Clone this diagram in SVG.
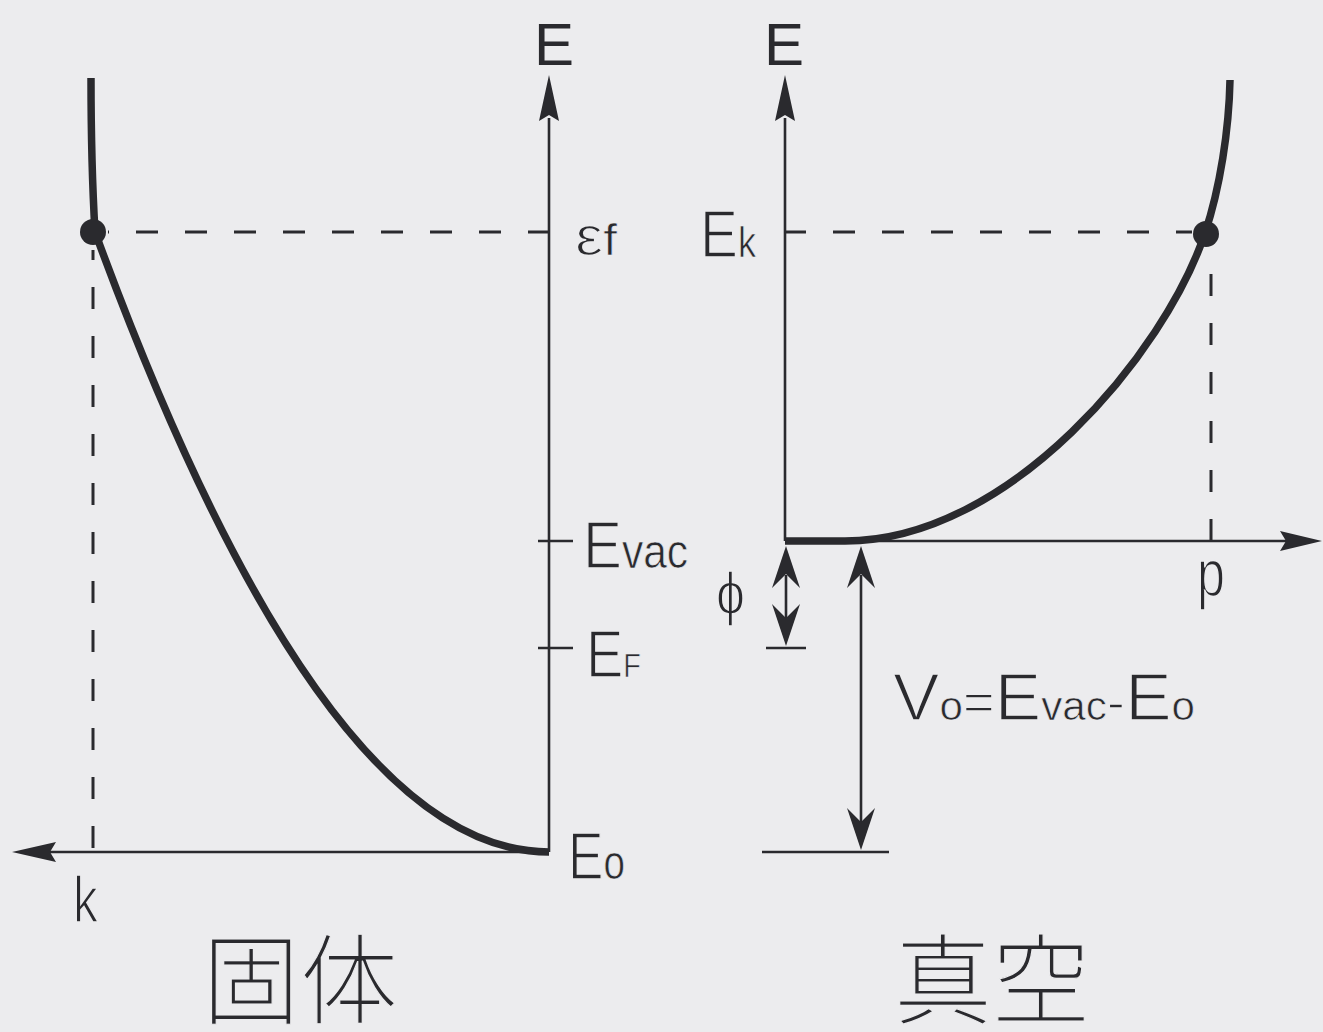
<svg xmlns="http://www.w3.org/2000/svg" width="1323" height="1032" viewBox="0 0 1323 1032">
<style>
.bg{fill:#ececee}
.ax{stroke:#2a2a2e;stroke-width:2.6;fill:none}
.tk{stroke:#2a2a2e;stroke-width:2.6;fill:none}
.ds{stroke:#2a2a2e;stroke-width:3;fill:none;stroke-dasharray:22 27}
.cv{stroke:#2a2a2e;stroke-width:7.5;fill:none;stroke-linecap:butt}
.dot{fill:#2a2a2e}
.ah{fill:#2a2a2e}
.lb{font-family:"Liberation Sans",Arial,sans-serif;fill:#2a2a2e;stroke:#ececee;stroke-width:1.6}
.sb{stroke-width:0.7}
.ttl{font-family:"Liberation Sans",Arial,sans-serif;fill:#2a2a2e;font-size:60px;text-anchor:middle}
.cjk{font-family:"Noto Sans CJK JP","Noto Sans CJK SC",sans-serif;font-weight:300;fill:#2a2a2e;stroke:#ececee;stroke-width:1.2;font-size:98px;text-anchor:middle}
</style>
<rect class="bg" x="0" y="0" width="1323" height="1032"/>

<g id="connectors">
<path id="left-E-axis" class="ax" d="M549,852 L549,118"/>
<path class="ah" d="M549,75 L559,121 L549,115 L539,121 Z"/>
<path id="left-k-axis" class="ax" d="M549,852 L50,852"/>
<path class="ah" d="M12,852 L56,842 L50,852 L56,862 Z"/>
<path id="right-E-axis" class="ax" d="M785,541 L785,118"/>
<path class="ah" d="M785,75 L795,121 L785,115 L775,121 Z"/>
<path id="right-p-axis" class="ax" d="M785,541 L1288,541"/>
<path class="ah" d="M1322,541 L1280,531 L1286,541 L1280,551 Z"/>
<path id="ticks" class="tk" d="M538,541 L573,541 M538,648 L573,648 M766,648 L806,648 M762,852 L889,852"/>
<path class="ds" d="M550,232 L108,232"/>
<path class="ds" d="M93,848 L93,250"/>
<path class="ds" d="M784,232 L1192,232"/>
<path class="ds" d="M1211,541 L1211,270"/>
<g id="phi-arrow">
<path class="ax" d="M786,575 L786,620"/>
<path class="ah" d="M786,546 L800,588 L786,574 L772,588 Z"/>
<path class="ah" d="M786,646 L800,604 L786,618 L772,604 Z"/>
</g>
<g id="v0-arrow">
<path class="ax" d="M861,575 L861,822"/>
<path class="ah" d="M861,546 L875,588 L861,574 L847,588 Z"/>
<path class="ah" d="M861,850 L875,808 L861,822 L847,808 Z"/>
</g>
</g>

<g id="solid-curve">
<path class="cv" d="M91,78 C91,130 92,180 95,232 Q322,852 549,852"/>
<circle class="dot" cx="93" cy="232" r="13"/>
</g>

<g id="vacuum-curve">
<path class="cv" d="M785,541 L845,541 C1010,541 1165,353 1205,233 C1220,188 1229,130 1230,80"/>
<circle class="dot" cx="1206" cy="234" r="13"/>
</g>

<g id="labels">
<text class="ttl" x="554" y="65">E</text>
<text class="ttl" x="784" y="65">E</text>
<text class="lb" x="575" y="255" font-size="56" textLength="42" lengthAdjust="spacingAndGlyphs">ε<tspan class="sb" font-size="44">f</tspan></text>
<text class="lb" x="700" y="257" font-size="66" textLength="56" lengthAdjust="spacingAndGlyphs">E<tspan class="sb" font-size="42">k</tspan></text>
<text class="lb" x="583" y="568" font-size="66" textLength="105" lengthAdjust="spacingAndGlyphs">E<tspan class="sb" font-size="48">vac</tspan></text>
<text class="lb" x="586" y="677" font-size="66" textLength="55" lengthAdjust="spacingAndGlyphs">E<tspan class="sb" font-size="34">F</tspan></text>
<text class="lb" x="568" y="879" font-size="66" textLength="57" lengthAdjust="spacingAndGlyphs">E<tspan class="sb" font-size="48">o</tspan></text>
<text class="lb" x="73" y="922" font-size="64" textLength="25" lengthAdjust="spacingAndGlyphs">k</text>
<text class="lb" x="1197" y="596" font-size="67" textLength="28" lengthAdjust="spacingAndGlyphs">p</text>
<text class="lb" x="716" y="614" font-size="60" textLength="29" lengthAdjust="spacingAndGlyphs">ϕ</text>
<text class="lb" x="893" y="720" font-size="66" textLength="302" lengthAdjust="spacingAndGlyphs">V<tspan class="sb" font-size="40">o</tspan><tspan font-size="52">=</tspan>E<tspan class="sb" font-size="40">vac</tspan><tspan font-size="52">-</tspan>E<tspan class="sb" font-size="40">o</tspan></text>
<text class="cjk" x="300" y="1016">固体</text>
<text class="cjk" x="992" y="1016">真空</text>
</g>
</svg>
